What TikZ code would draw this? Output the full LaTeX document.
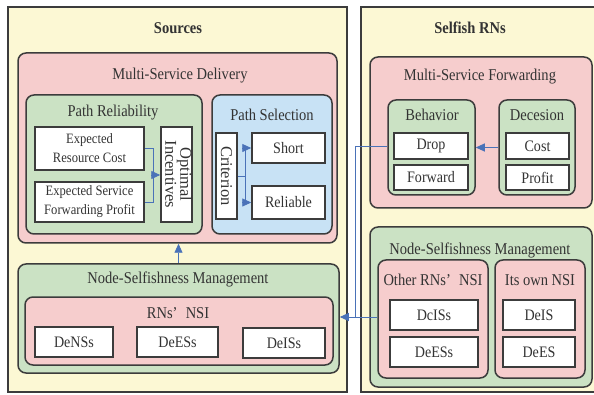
\documentclass[tikz,border=0pt]{standalone}
\usepackage{fontspec}
\setmainfont{Liberation Serif}[FakeStretch=0.88]
\newfontfamily\plainserif{Liberation Serif}
\usetikzlibrary{arrows.meta}

\definecolor{panelyellow}{HTML}{FCF8D4}
\definecolor{boxpink}{HTML}{F6CDCD}
\definecolor{boxgreen}{HTML}{CBE2C4}
\definecolor{boxblue}{HTML}{C8E2F5}
\definecolor{linegray}{HTML}{3C3C3C}
\definecolor{textgray}{HTML}{333333}
\definecolor{flowblue}{HTML}{4A72B8}

\begin{document}
\begin{tikzpicture}[x=1pt, y=-1pt,
  panel/.style={draw=linegray, fill=panelyellow, line width=1.4pt, inner sep=0pt},
  group/.style={draw=linegray, line width=1.5pt, rounded corners=8pt, inner sep=0pt},
  pinkgroup/.style={group, fill=boxpink},
  greengroup/.style={group, fill=boxgreen},
  bluegroup/.style={group, fill=boxblue},
  item/.style={draw=linegray, fill=white, line width=1.5pt, inner sep=0pt, text=textgray,
    font=\fontsize{16}{18}\selectfont},
  smallitem/.style={item, align=center, font=\fontsize{14.3}{19}\selectfont},
  sideitem/.style={item, font=\plainserif\fontsize{16.5}{14}\selectfont},
  title/.style={text=textgray, font=\fontsize{16.5}{18}\selectfont},
  flow/.style={draw=flowblue, line width=0.9pt},
  >={Triangle[length=9pt,width=8pt]}]
  \useasboundingbox (0,0) rectangle (594,395);
  \clip (0,0) rectangle (594,395);

  % two panels
  \node[panel, minimum width=339pt, minimum height=385pt] (src) at (177.5,199.5) {};
  \node[panel, minimum width=239pt, minimum height=385pt] (srn) at (480.5,199.5) {};
  \node[title, font=\bfseries\fontsize{16.5}{18}\selectfont] (srcT) at (178,28) {Sources};
  \node[title, font=\bfseries\fontsize{16.5}{18}\selectfont] (srnT) at (470,28) {Selfish RNs};

  % sources: delivery
  \node[pinkgroup, minimum width=319pt, minimum height=190pt] (msd) at (177.5,148) {};
  \node[title] (msdT) at (180,76) {Multi-Service Delivery};
  \node[greengroup, minimum width=176pt, minimum height=139pt] (prel) at (114,164.5) {};
  \node[title] (prelT) at (113,113) {Path Reliability};
  \node[smallitem, minimum width=109pt, minimum height=43pt] (erc) at (89.5,148.5) {Expected\\Resource Cost};
  \node[smallitem, minimum width=109pt, minimum height=40pt] (esfp) at (89.5,202) {Expected Service\\Forwarding Profit};
  \node[sideitem, minimum width=31pt, minimum height=95pt] (oi) at (176.5,174.5)
    {\rotatebox{-90}{\begin{tabular}{@{}c@{}}Optimal\\Incentives\end{tabular}}};
  \node[bluegroup, minimum width=120pt, minimum height=139pt] (psel) at (272,164.5) {};
  \node[title] (pselT) at (272,115) {Path Selection};
  \node[sideitem, minimum width=21pt, minimum height=86pt] (crit) at (226.5,176) {\rotatebox{-90}{Criterion}};
  \node[item, minimum width=73pt, minimum height=30pt] (short) at (288.5,148) {Short};
  \node[item, minimum width=73pt, minimum height=33pt] (rel) at (288.5,202.5) {Reliable};

  % sources: selfishness
  \node[greengroup, minimum width=321pt, minimum height=109pt] (nsmL) at (178.5,318.5) {};
  \node[title] (nsmLT) at (178,279) {Node-Selfishness Management};
  \node[pinkgroup, minimum width=308pt, minimum height=68pt] (rnsi) at (179,331) {};
  \node[title] (rnsiT) at (178,313) {RNs’\enspace NSI};
  \node[item, minimum width=78pt, minimum height=30pt] (densL) at (74,342) {DeNSs};
  \node[item, minimum width=81pt, minimum height=30pt] (deesL) at (177.5,342) {DeESs};
  \node[item, minimum width=82pt, minimum height=30pt] (deisL) at (284,343) {DeISs};

  % selfish RNs: forwarding
  \node[pinkgroup, minimum width=222pt, minimum height=151pt] (msf) at (481,132.5) {};
  \node[title] (msfT) at (480,77) {Multi-Service Forwarding};
  \node[greengroup, minimum width=87pt, minimum height=95pt] (beh) at (431.5,147.5) {};
  \node[title] (behT) at (432,115) {Behavior};
  \node[item, minimum width=74pt, minimum height=26pt] (drop) at (431,146) {Drop};
  \node[item, minimum width=74pt, minimum height=25pt] (fwd) at (431,177.5) {Forward};
  \node[greengroup, minimum width=76pt, minimum height=95pt] (dec) at (537,147.5) {};
  \node[title] (decT) at (537,115) {Decesion};
  \node[item, minimum width=63pt, minimum height=26pt] (cost) at (537.5,146) {Cost};
  \node[item, minimum width=63pt, minimum height=25pt] (profit) at (537.5,177.5) {Profit};

  % selfish RNs: selfishness
  \node[greengroup, minimum width=222pt, minimum height=160pt] (nsmR) at (481,307) {};
  \node[title] (nsmRT) at (480,250) {Node-Selfishness Management};
  \node[pinkgroup, minimum width=110pt, minimum height=118pt] (other) at (433,319) {};
  \node[title] (otherT) at (433,280) {Other RNs’\enspace NSI};
  \node[pinkgroup, minimum width=90pt, minimum height=118pt] (own) at (540,319) {};
  \node[title] (ownT) at (540,280) {Its own NSI};
  \node[item, minimum width=88pt, minimum height=30pt] (dcis) at (434,315) {DcISs};
  \node[item, minimum width=88pt, minimum height=30pt] (deesR) at (434,352) {DeESs};
  \node[item, minimum width=72pt, minimum height=30pt] (deis) at (539,315) {DeIS};
  \node[item, minimum width=72pt, minimum height=30pt] (dees) at (539,352) {DeES};

  % connectors
  \coordinate (relJ) at (153,175);
  \coordinate (selJ) at (245,176);
  \coordinate (gapJ) at (355,317);
  \draw[flow] (erc.east) -| (relJ);
  \draw[flow] (esfp.east) -| (relJ);
  \draw[flow,->] (relJ) -- (relJ -| oi.west);
  \draw[flow] (crit.east |- selJ) -- (selJ);
  \draw[flow,->] (selJ) |- (short.west);
  \draw[flow,->] (selJ) |- (rel.west);
  \draw[flow,->] (nsmL.north) -- (nsmL.north |- msd.south);
  \draw[flow,->] (dec.west) -- (beh.east);
  \draw[flow] (beh.west |- drop) -| (gapJ);
  \draw[flow,->] (other.west |- gapJ) -- (nsmL.east |- gapJ);
\end{tikzpicture}
\end{document}
